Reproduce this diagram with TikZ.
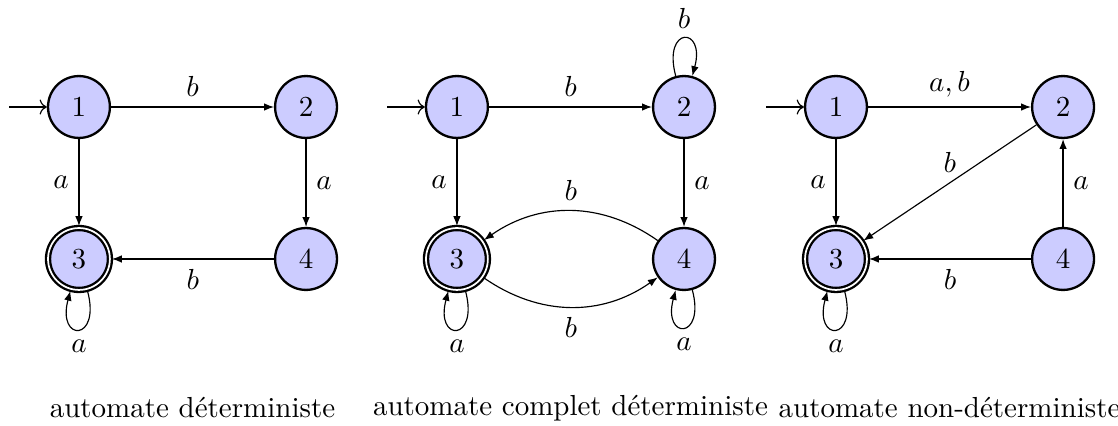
\documentclass[tikz,border=0pt]{standalone}
\usepackage{fontspec}
\usetikzlibrary{arrows.meta,automata,positioning}

\begin{document}
\begin{tikzpicture}[
  etat/.style={circle,draw,thick,fill=blue!20,minimum size=7.5mm,inner sep=0pt},
  fleche/.style={-{Latex[length=3.4pt,width=2.6pt]}},
  boucle/.style={fleche,min distance=6mm},
  initial text=]
  \useasboundingbox (0,0) rectangle (13.55,5.163);

  % automate deterministe
  \begin{scope}[xshift=0.957cm]
  \node[etat,initial] (d1) at (0,3.866) {1};
  \node[etat] (d2) at (2.752,3.866) {2};
  \node[etat,accepting] (d3) at (0,2.024) {3};
  \node[etat] (d4) at (2.752,2.024) {4};
  \draw[fleche] (d1) -- node[above] {$b$} (d2);
  \draw[fleche] (d1) -- node[left] {$a$} (d3);
  \draw[fleche] (d2) -- node[right] {$a$} (d4);
  \draw[fleche] (d4) -- node[below] {$b$} (d3);
  \draw[boucle] (d3) to[loop below] node[below] {$a$} (d3);
  \node (t1) at (1.376,0.218) {automate déterministe};
  \end{scope}

  % automate complet deterministe
  \begin{scope}[xshift=5.538cm]
  \node[etat,initial] (c1) at (0,3.866) {1};
  \node[etat] (c2) at (2.752,3.866) {2};
  \node[etat,accepting] (c3) at (0,2.024) {3};
  \node[etat] (c4) at (2.752,2.024) {4};
  \draw[fleche] (c1) -- node[above] {$b$} (c2);
  \draw[fleche] (c1) -- node[left] {$a$} (c3);
  \draw[fleche] (c2) -- node[right] {$a$} (c4);
  \draw[fleche] (c4) to[bend right=35] node[above] {$b$} (c3);
  \draw[fleche] (c3) to[bend right=35] node[below] {$b$} (c4);
  \draw[boucle] (c2) to[loop above] node[above] {$b$} (c2);
  \draw[boucle] (c3) to[loop below] node[below] {$a$} (c3);
  \draw[boucle] (c4) to[loop below] node[below] {$a$} (c4);
  \node (t2) at (1.376,0.218) {automate complet déterministe};
  \end{scope}

  % automate non-deterministe
  \begin{scope}[xshift=10.132cm]
  \node[etat,initial] (n1) at (0,3.866) {1};
  \node[etat] (n2) at (2.752,3.866) {2};
  \node[etat,accepting] (n3) at (0,2.024) {3};
  \node[etat] (n4) at (2.752,2.024) {4};
  \draw[fleche] (n1) -- node[above] {$a,b$} (n2);
  \draw[fleche] (n1) -- node[left] {$a$} (n3);
  \draw[fleche] (n2) -- node[above] {$b$} (n3);
  \draw[fleche] (n4) -- node[right] {$a$} (n2);
  \draw[fleche] (n4) -- node[below] {$b$} (n3);
  \draw[boucle] (n3) to[loop below] node[below] {$a$} (n3);
  \node (t3) at (1.376,0.218) {automate non-déterministe};
  \end{scope}
\end{tikzpicture}
\end{document}
